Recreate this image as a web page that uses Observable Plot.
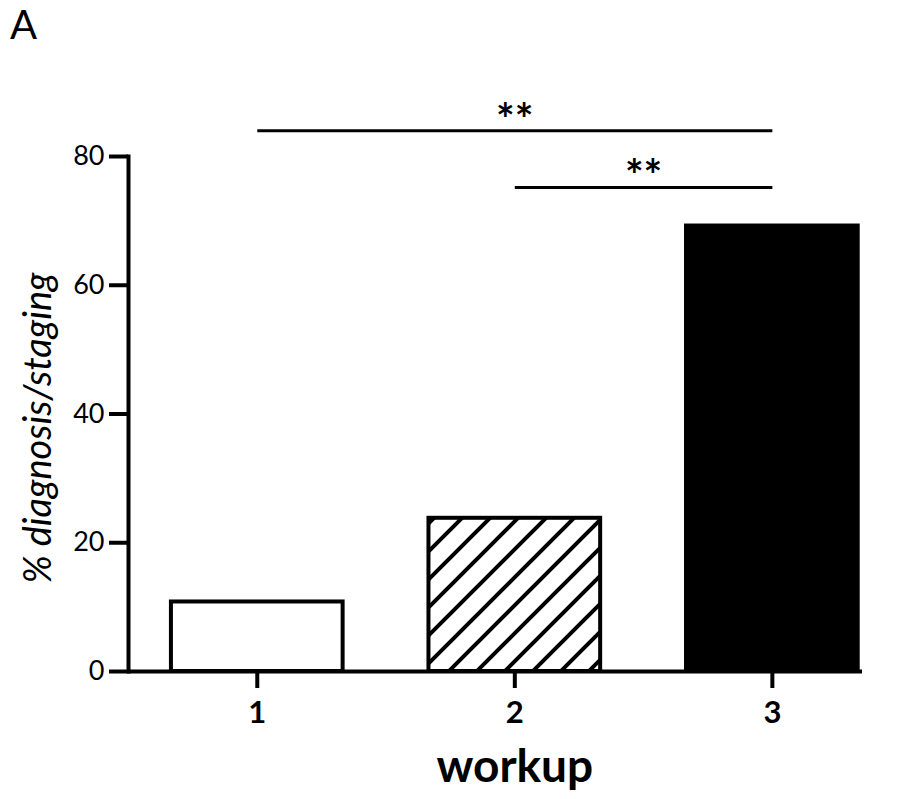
<!DOCTYPE html>
<html>
<head>
<meta charset="utf-8">
<script src="https://cdn.jsdelivr.net/npm/d3@7"></script>
<script src="https://cdn.jsdelivr.net/npm/@observablehq/plot@0.6"></script>
<style>
  html, body { margin: 0; padding: 0; background: #fff; }
  #wrap { position: relative; width: 897px; height: 799px; font-family: Lato, "Open Sans", sans-serif; }
  #panel { position: absolute; left: 10px; top: 2px; font-size: 40px; line-height: 1.1; color: #000; }
</style>
</head>
<body>
<div id="wrap"><div id="panel">A</div></div>
<script>
// Data
const workups = [1, 2, 3];
const percents = [10.8, 23.8, 69.2];
const yTicks = [0, 20, 40, 60, 80];
const yLabel = "% diagnosis/staging";
const xLabel = "workup";
// significance annotations
const sigFrom = [1, 2];
const sigTo = [3, 3];
const sigLevel = [84, 75.2];
const sigText = ["**", "**"];

const bars = workups.map((w, i) => ({workup: w, pct: percents[i]}));
const sigs = sigFrom.map((f, i) => ({from: f, to: sigTo[i], y: sigLevel[i], label: sigText[i]}));

const halfBar = 1 / 3; // bar occupies two thirds of each category slot

const plot = Plot.plot({
  width: 897,
  height: 799,
  marginLeft: 128,
  marginRight: 35,
  marginTop: 156,
  marginBottom: 128,
  style: {fontFamily: "Lato, 'Open Sans', sans-serif", color: "#000", background: "#fff"},
  x: {domain: [0.5, 3.35]},
  y: {domain: [0, 80]},
  color: {type: "ordinal", domain: workups, range: ["#fff", "url(#hatch)", "#000"]},
  marks: [
    Plot.rectY(bars, {
      x1: d => d.workup - halfBar,
      x2: d => d.workup + halfBar,
      y: "pct",
      fill: "workup",
      stroke: "#000",
      strokeWidth: 4
    }),
    Plot.ruleY([0], {stroke: "#000", strokeWidth: 4}),
    Plot.frame({anchor: "left", stroke: "#000", strokeWidth: 4}),
    Plot.axisY({ticks: yTicks, tickSize: 19, tickPadding: 5, strokeWidth: 4, fontSize: 27, label: null}),
    Plot.axisX({ticks: workups, tickFormat: d => String(d), tickSize: 17, tickPadding: 12, strokeWidth: 4, fontSize: 31, fontWeight: "bold", label: null}),
    Plot.text([yLabel], {text: d => d, frameAnchor: "left", rotate: -90, dx: -90, dy: 14, fontSize: 38, fontStyle: "italic", textAnchor: "middle"}),
    Plot.text([xLabel], {text: d => d, x: () => d3.median(workups), frameAnchor: "bottom", dy: 110, fontSize: 46, fontWeight: "bold", textAnchor: "middle"}),
    Plot.link(sigs, {x1: "from", x2: "to", y1: "y", y2: "y", stroke: "#000", strokeWidth: 3}),
    Plot.text(sigs, {x: d => (d.from + d.to) / 2, y: "y", text: "label", dy: -10, fontSize: 44, fontWeight: "bold"})
  ]
});

// hatch pattern definition for the middle bar
const ns = "http://www.w3.org/2000/svg";
const defs = document.createElementNS(ns, "defs");
const pat = document.createElementNS(ns, "pattern");
pat.setAttribute("id", "hatch");
pat.setAttribute("patternUnits", "userSpaceOnUse");
pat.setAttribute("width", "28");
pat.setAttribute("height", "28");
const bg = document.createElementNS(ns, "rect");
bg.setAttribute("width", "28"); bg.setAttribute("height", "28"); bg.setAttribute("fill", "#fff");
pat.appendChild(bg);
const p = document.createElementNS(ns, "path");
p.setAttribute("d", "M-7,7 L7,-7 M0,28 L28,0 M21,35 L35,21");
p.setAttribute("stroke", "#000");
p.setAttribute("stroke-width", "4");
pat.appendChild(p);
defs.appendChild(pat);
plot.insertBefore(defs, plot.firstChild);

document.getElementById("wrap").appendChild(plot);
</script>
</body>
</html>
